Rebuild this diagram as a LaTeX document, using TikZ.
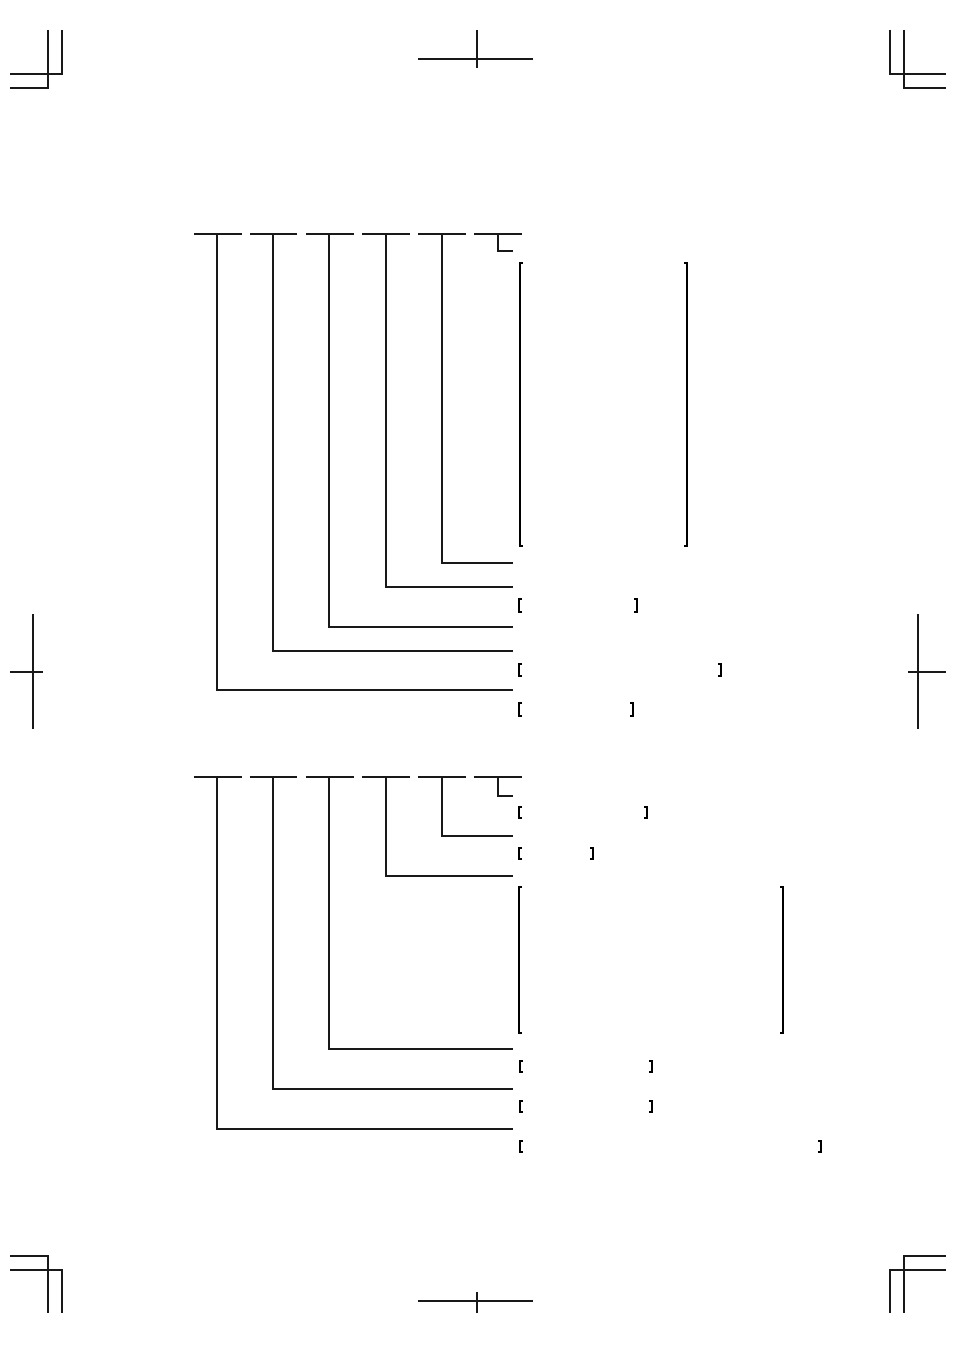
\documentclass[tikz,border=0pt]{standalone}
\newcommand\LBrk[4][0.9pt]{\draw[line width=#1] (#2+3,#3) -- (#2,#3) -- (#2,#4) -- (#2+3,#4);}
\newcommand\RBrk[4][0.9pt]{\draw[line width=#1] (#2-3,#3) -- (#2,#3) -- (#2,#4) -- (#2-3,#4);}
\begin{document}
\begin{tikzpicture}[x=0.75pt,y=-0.75pt,line width=0.8pt,line cap=butt,
  ln/.style={draw,line width=0.8pt,color=black!90}]
\useasboundingbox (0,0) rectangle (954,1351);
% crop marks
\draw[ln] (48,30) -- (48,88) -- (10,88);
\draw[ln] (62,30) -- (62,74) -- (10,74);
\draw[ln] (418,59) -- (533,59);
\draw[ln] (477,30) -- (477,68);
\draw[ln] (890,30) -- (890,74) -- (946,74);
\draw[ln] (904,30) -- (904,88) -- (946,88);
\draw[ln] (33,614) -- (33,729);
\draw[ln] (10,672) -- (43,672);
\draw[ln] (918,614) -- (918,729);
\draw[ln] (908,672) -- (946,672);
\draw[ln] (10,1256) -- (48,1256) -- (48,1313);
\draw[ln] (10,1270) -- (62,1270) -- (62,1313);
\draw[ln] (418,1301) -- (533,1301);
\draw[ln] (477,1292) -- (477,1313);
\draw[ln] (946,1256) -- (904,1256) -- (904,1313);
\draw[ln] (946,1270) -- (890,1270) -- (890,1313);
% diagram 1
\foreach \a/\b in {194/242,250/297,306/354,362/410,418/466,474/522}
  \draw[ln] (\a,234) -- (\b,234);
\coordinate (e1) at (513,251);
\draw[ln] (498,234) |- (e1);
\draw[ln] (442,234) |- (513,563);
\draw[ln] (386,234) |- (513,587);
\draw[ln] (329,234) |- (513,627);
\draw[ln] (273,234) |- (513,651);
\draw[ln] (217,234) |- (513,690);
\LBrk[1pt]{520}{263}{546}
\RBrk[1pt]{687}{263}{546}
\LBrk{519}{599}{612}
\RBrk[1.6pt]{637}{599}{612}
\LBrk{519}{664}{676}
\RBrk[1.2pt]{721}{664}{676}
\LBrk[1.4pt]{519}{703}{716}
\RBrk{633}{703}{716}
% diagram 2
\foreach \a/\b in {194/242,250/297,306/354,362/410,418/466,474/522}
  \draw[ln] (\a,777) -- (\b,777);
\draw[ln] (498,777) |- (513,796);
\draw[ln] (442,777) |- (513,836);
\draw[ln] (386,777) |- (513,876);
\draw[ln] (329,777) |- (513,1049);
\draw[ln] (273,777) |- (513,1089);
\draw[ln] (217,777) |- (513,1129);
\LBrk[1.4pt]{519}{807}{818}
\RBrk[1.4pt]{647}{807}{818}
\LBrk{519}{848}{859}
\RBrk[1.2pt]{593}{848}{859}
\LBrk[1.4pt]{519}{887}{1033}
\RBrk[1.4pt]{783}{887}{1033}
\LBrk[1.5pt]{520}{1061}{1072}
\RBrk{652}{1061}{1072}
\LBrk{520}{1101}{1112}
\RBrk{652}{1101}{1112}
\LBrk{520}{1141}{1152}
\RBrk{821}{1141}{1152}
\end{tikzpicture}
\end{document}
